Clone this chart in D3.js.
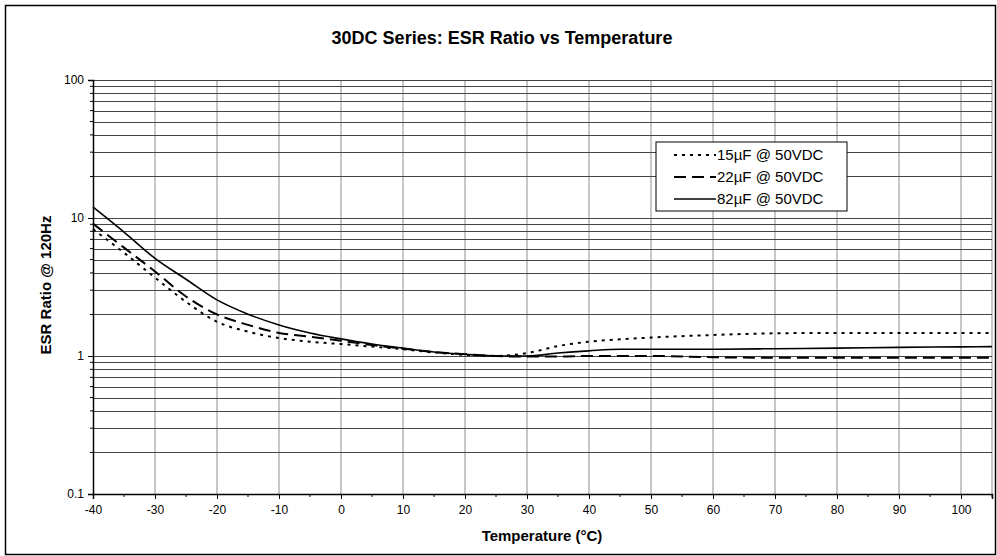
<!DOCTYPE html>
<html>
<head>
<meta charset="utf-8">
<script src="https://cdnjs.cloudflare.com/ajax/libs/d3/7.8.5/d3.min.js"></script>
<style>
  body { margin: 0; background: #fff; }
  svg { font-family: Arial, "Liberation Sans", sans-serif; }
</style>
</head>
<body>
<svg id="chart" width="997" height="556"></svg>
<script>
// temperature points (°C)
var temps = [-40, -35, -30, -25, -20, -15, -10, -5, 0, 5, 10, 15, 20, 25, 30, 35, 40, 45, 50, 60, 70, 80, 90, 100, 105];
// ESR ratio
var esr15 = [8.3, 5.6, 3.7, 2.47, 1.77, 1.5, 1.35, 1.27, 1.22, 1.17, 1.12, 1.06, 1.02, 1.0, 1.05, 1.18, 1.27, 1.32, 1.36, 1.42, 1.46, 1.47, 1.47, 1.47, 1.47];
var esr22 = [9.1, 6.1, 4.1, 2.7, 2.0, 1.68, 1.47, 1.38, 1.29, 1.2, 1.13, 1.07, 1.03, 1.0, 0.99, 0.99, 1.0, 1.0, 1.0, 0.98, 0.97, 0.97, 0.97, 0.97, 0.97];
var esr82 = [12.0, 7.9, 5.1, 3.6, 2.55, 2.01, 1.68, 1.47, 1.33, 1.22, 1.14, 1.07, 1.03, 1.0, 1.0, 1.05, 1.09, 1.12, 1.12, 1.12, 1.13, 1.14, 1.155, 1.165, 1.17];
var seriesNames = ["15µF @ 50VDC", "22µF @ 50VDC", "82µF @ 50VDC"];
var xTicks = [-40, -30, -20, -10, 0, 10, 20, 30, 40, 50, 60, 70, 80, 90, 100];
var yTicks = [0.1, 1, 10, 100];

var svg = d3.select("#chart");
var pLeft = 93, pRight = 992, pTop = 80, pBottom = 494;

var x = d3.scaleLinear().domain([-40, 105]).range([pLeft, pRight]);
var y = d3.scaleLog().domain([0.1, 100]).range([pBottom, pTop]);

// outer frame
svg.append("rect").attr("x", 5.5).attr("y", 5.5).attr("width", 990).attr("height", 549)
  .style("fill", "none").style("stroke", "#000").style("stroke-width", 1.5);

// minor log values for horizontal grid
var yGrid = [];
[0.1, 1, 10].forEach(function(d) {
  for (var k = 1; k <= 10; k++) yGrid.push(+(d * k).toPrecision(3));
});

var grid = svg.append("g");
grid.selectAll(".vg").data(xTicks.slice(1).concat([105])).enter().append("line")
  .attr("x1", function(d) { return x(d); }).attr("x2", function(d) { return x(d); })
  .attr("y1", pTop).attr("y2", pBottom)
  .style("stroke", "#b4b4b4").style("stroke-width", 1.5);
grid.selectAll(".hg").data(yGrid.filter(function(d) { return d > 0.11; })).enter().append("line")
  .attr("x1", pLeft).attr("x2", pRight)
  .attr("y1", function(d) { return Math.round(y(d)) + 0.5; }).attr("y2", function(d) { return Math.round(y(d)) + 0.5; })
  .style("stroke", "#444").style("stroke-width", 1);

// axes
var xAxis = d3.axisBottom(x).tickValues(xTicks).tickSize(5).tickPadding(6)
  .tickFormat(function(d) { return String(d); });
var gx = svg.append("g").attr("transform", "translate(0," + pBottom + ")").call(xAxis);
gx.selectAll(".minor").data(d3.range(-35, 106, 10)).enter().append("line")
  .attr("x1", function(d) { return x(d); }).attr("x2", function(d) { return x(d); })
  .attr("y1", 0).attr("y2", 3).style("stroke", "#000");

var yAxis = d3.axisLeft(y).tickValues(yTicks).tickSize(5).tickPadding(4)
  .tickFormat(function(d) { return d < 1 ? "0.1" : String(d); });
var gy = svg.append("g").attr("transform", "translate(" + pLeft + ",0)").call(yAxis);
gy.selectAll(".minor").data(yGrid.filter(function(d) { return yTicks.indexOf(d) < 0 && d < 100; })).enter().append("line")
  .attr("x1", -3).attr("x2", 0)
  .attr("y1", function(d) { return y(d); }).attr("y2", function(d) { return y(d); })
  .style("stroke", "#000");

svg.selectAll(".domain").style("stroke", "#000").style("stroke-width", 1.5);
svg.selectAll(".tick line").style("stroke", "#000");
svg.selectAll(".tick text").style("font-size", "12px").style("fill", "#000")
  .style("font-family", "Arial, 'Liberation Sans', sans-serif");

// series lines
var series = [esr15, esr22, esr82];
var dashes = ["3,5", "12,6", null];
var line = d3.line()
  .x(function(d) { return x(d[0]); })
  .y(function(d) { return y(d[1]); })
  .curve(d3.curveMonotoneX);

series.forEach(function(vals, i) {
  var pts = temps.map(function(t, j) { return [t, vals[j]]; });
  svg.append("path").datum(pts).attr("d", line)
    .style("fill", "none").style("stroke", "#000").style("stroke-width", i == 2 ? 1.6 : 2)
    .style("stroke-dasharray", dashes[i]);
});

// titles
svg.append("text").attr("x", 502).attr("y", 44).attr("text-anchor", "middle")
  .style("font-size", "18px").style("font-weight", "bold").text("30DC Series: ESR Ratio vs Temperature");
svg.append("text").attr("x", 542).attr("y", 541).attr("text-anchor", "middle")
  .style("font-size", "15px").style("font-weight", "bold").text("Temperature (°C)");
svg.append("text").attr("transform", "translate(51,285) rotate(-90)").attr("text-anchor", "middle")
  .style("font-size", "15px").style("font-weight", "bold").text("ESR Ratio @ 120Hz");

// legend
var lg = svg.append("g").attr("transform", "translate(656,142)");
lg.append("rect").attr("width", 191).attr("height", 69)
  .style("fill", "#fff").style("stroke", "#000").style("stroke-width", 1);
seriesNames.forEach(function(name, i) {
  var yy = 13 + i * 22;
  lg.append("line").attr("x1", 18).attr("x2", 60).attr("y1", yy).attr("y2", yy)
    .style("stroke", "#000").style("stroke-width", i == 2 ? 1.6 : 2).style("stroke-dasharray", dashes[i]);
  lg.append("text").attr("x", 61).attr("y", yy + 5).style("font-size", "15px").text(name);
});
</script>
</body>
</html>
